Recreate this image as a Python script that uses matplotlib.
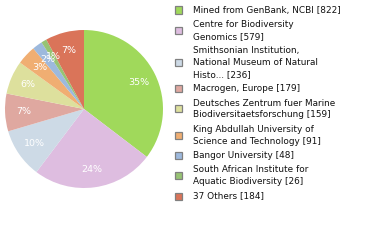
import matplotlib
matplotlib.use("Agg")
import matplotlib.pyplot as plt
from matplotlib.patches import Rectangle
import numpy as np

labels = ["Mined from GenBank, NCBI [822]",
          "Centre for Biodiversity\nGenomics [579]",
          "Smithsonian Institution,\nNational Museum of Natural\nHisto... [236]",
          "Macrogen, Europe [179]",
          "Deutsches Zentrum fuer Marine\nBiodiversitaetsforschung [159]",
          "King Abdullah University of\nScience and Technology [91]",
          "Bangor University [48]",
          "South African Institute for\nAquatic Biodiversity [26]",
          "37 Others [184]"]
values = [822, 579, 236, 179, 159, 91, 48, 26, 184]
colors = ["#A0D95B", "#DEBDE0", "#CDDAE6", "#DFA8A0", "#DDE09D",
          "#F0AE72", "#9DB9DD", "#97C374", "#DA7459"]

total = sum(values)
pct_labels = [f"{int(100 * v / total)}%" for v in values]

W, H = 380, 240
fig = plt.figure(figsize=(3.8, 2.4), dpi=100)
ax = fig.add_axes([5/W, (H-188)/H, 158/W, 158/H])
wedges, _ = ax.pie(values, colors=colors, startangle=90, counterclock=False,
                   radius=1.0, wedgeprops=dict(linewidth=0))
for w, lab in zip(wedges, pct_labels):
    ang = np.deg2rad((w.theta1 + w.theta2) / 2)
    ax.text(0.77 * np.cos(ang), 0.77 * np.sin(ang), lab, ha="center", va="center",
            color="white", fontsize=6.8)
ax.set_xlim(-1, 1)
ax.set_ylim(-1, 1)
ax.set_aspect("equal")
ax.axis("off")

# manual legend
line_step = 11.8
entry_gap = 14.4
y = 10.0
for lab, c in zip(labels, colors):
    lines = lab.split("\n")
    ys = [y + i * line_step for i in range(len(lines))]
    for ln, yy in zip(lines, ys):
        fig.text(193/W, 1 - yy/H, ln, ha="left", va="center", fontsize=6.4,
                 color="#111111")
    yc = (ys[0] + ys[-1]) / 2
    fig.patches.append(Rectangle((175/W, 1 - (yc + 3.5)/H), 7/W, 7/H,
                                 transform=fig.transFigure, facecolor=c,
                                 edgecolor="#808080", linewidth=0.9))
    y = ys[-1] + entry_gap

fig.savefig("out.png", dpi=100)
